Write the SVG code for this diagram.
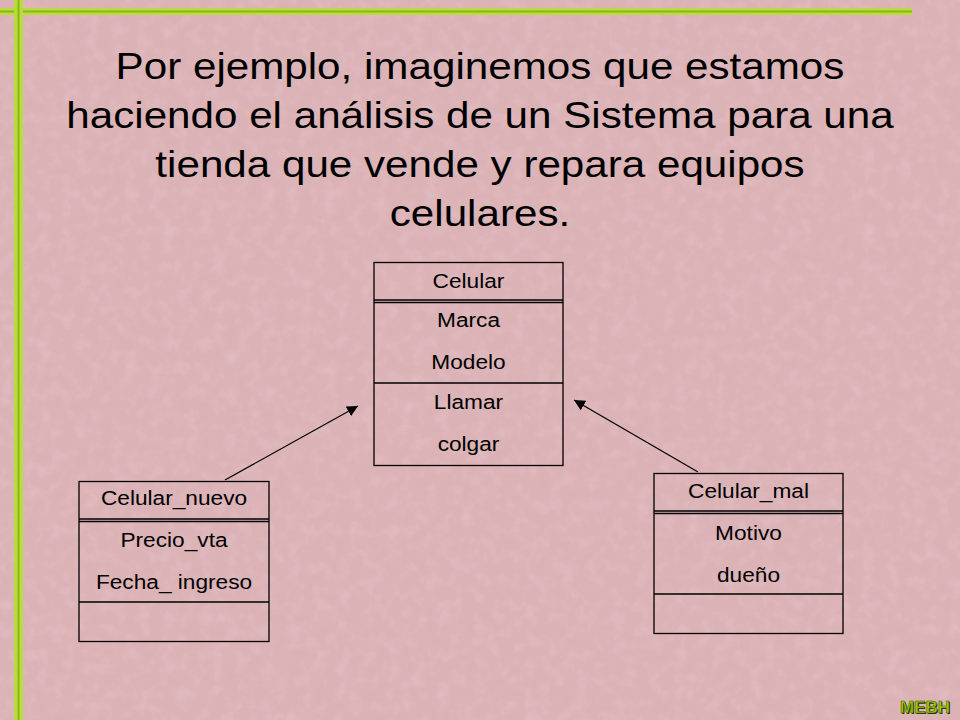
<svg xmlns="http://www.w3.org/2000/svg" width="960" height="720" viewBox="0 0 960 720">
<defs>
<filter id="tex" x="0" y="0" width="100%" height="100%">
<feTurbulence type="fractalNoise" baseFrequency="0.08" numOctaves="3" seed="4" result="n"/>
<feColorMatrix in="n" type="matrix" values="0 0 0 0 0.95  0 0 0 0 0.84  0 0 0 0 0.86  0 0 0 0.9 -0.35"/>
</filter>
<marker id="arr" viewBox="0 0 10 10" refX="10" refY="5" markerWidth="11" markerHeight="11" markerUnits="userSpaceOnUse" orient="auto">
<path d="M0,0 L10,5 L0,10 z" fill="#000"/>
</marker>
<style>
.box{fill:none;stroke:#000;stroke-width:1.3}
.t{font-family:"Liberation Sans",Arial,sans-serif;font-size:21px;fill:#000;text-anchor:middle}
.title{font-family:"Liberation Sans",Arial,sans-serif;font-size:37px;fill:#000;text-anchor:middle}
.conn{stroke:#000;stroke-width:1.2;fill:none;marker-end:url(#arr)}
</style>
</defs>
<rect width="960" height="720" fill="#dbb2b6"/>
<rect width="960" height="720" filter="url(#tex)" opacity="0.35"/>
<g id="frame">
<rect x="0" y="8" width="912" height="7" fill="#b8dc3c"/>
<rect x="0" y="10.5" width="912" height="2" fill="#8fb21e"/>
<rect x="14" y="0" width="9" height="720" fill="#b8dc3c"/>
<rect x="17.5" y="0" width="2" height="720" fill="#8fb21e"/>
</g>
<g id="title" transform="translate(480,0) scale(1.14,1)">
<text class="title" x="0" y="79">Por ejemplo, imaginemos que estamos</text>
<text class="title" x="0" y="128">haciendo el análisis de un Sistema para una</text>
<text class="title" x="0" y="177">tienda que vende y repara equipos</text>
<text class="title" x="0" y="226">celulares.</text>
</g>
<g id="connectors">
<line class="conn" x1="225" y1="480" x2="358" y2="406"/>
<line class="conn" x1="698" y1="472" x2="574" y2="400"/>
</g>
<g id="celular">
<rect class="box" x="374" y="262.5" width="189" height="203"/>
<line class="box" x1="374" y1="300" x2="563" y2="300"/>
<line class="box" x1="374" y1="302.5" x2="563" y2="302.5"/>
<line class="box" x1="374" y1="383" x2="563" y2="383"/>
<g transform="translate(468.5,0) scale(1.08,1)">
<text class="t" x="0" y="288">Celular</text>
<text class="t" x="0" y="327">Marca</text>
<text class="t" x="0" y="369">Modelo</text>
<text class="t" x="0" y="409">Llamar</text>
<text class="t" x="0" y="451">colgar</text>
</g>
</g>
<g id="celular_nuevo">
<rect class="box" x="79" y="481.5" width="190" height="160"/>
<line class="box" x1="79" y1="519" x2="269" y2="519"/>
<line class="box" x1="79" y1="521.5" x2="269" y2="521.5"/>
<line class="box" x1="79" y1="602" x2="269" y2="602"/>
<g transform="translate(174,0) scale(1.08,1)">
<text class="t" x="0" y="505">Celular_nuevo</text>
<text class="t" x="0" y="547">Precio_vta</text>
<text class="t" x="0" y="589">Fecha_ ingreso</text>
</g>
</g>
<g id="celular_mal">
<rect class="box" x="654" y="473.5" width="189" height="160"/>
<line class="box" x1="654" y1="511" x2="843" y2="511"/>
<line class="box" x1="654" y1="513.5" x2="843" y2="513.5"/>
<line class="box" x1="654" y1="594" x2="843" y2="594"/>
<g transform="translate(748.5,0) scale(1.08,1)">
<text class="t" x="0" y="498">Celular_mal</text>
<text class="t" x="0" y="540">Motivo</text>
<text class="t" x="0" y="582">dueño</text>
</g>
</g>
<g id="mebh" font-family="Liberation Sans,Arial,sans-serif" font-size="17" font-weight="bold" text-anchor="middle">
<text x="926" y="714" fill="#2a3300">MEBH</text>
<text x="925" y="713" fill="#99cc00" stroke="#3a4a00" stroke-width="0.5">MEBH</text>
</g>
</svg>
